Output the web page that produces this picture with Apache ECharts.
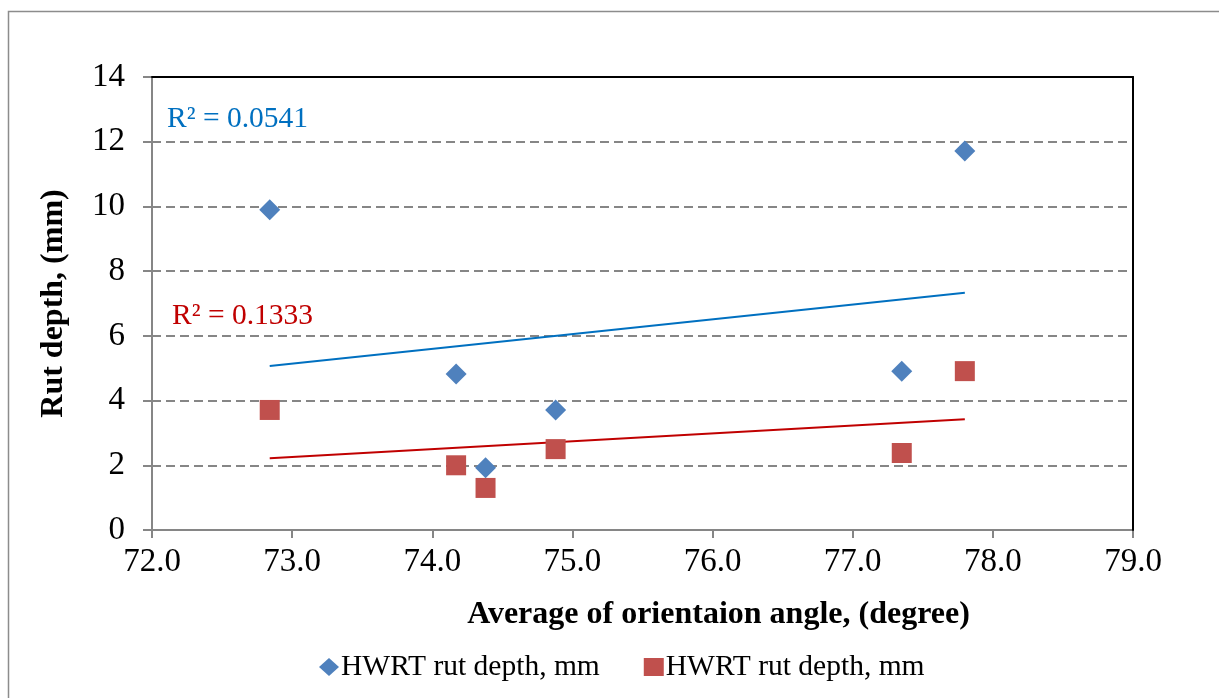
<!DOCTYPE html>
<html><head><meta charset="utf-8">
<script src="https://cdn.jsdelivr.net/npm/echarts@6/dist/echarts.min.js"></script>
<style>html,body{margin:0;padding:0;background:#fff}#c{width:1219px;height:698px}</style>
</head><body><div id="c"></div>
<script>
// Data
const angleX = [72.84, 74.17, 74.38, 74.88, 77.35, 77.80];
const rutBlue = [9.9, 4.82, 1.92, 3.71, 4.91, 11.71];
const rutRed = [3.71, 2.0, 1.30, 2.50, 2.38, 4.91];
const seriesLabels = ['HWRT rut depth, mm', 'HWRT rut depth, mm'];
const r2Labels = ['R\u00b2 = 0.0541', 'R\u00b2 = 0.1333'];
const xTitle = 'Average of orientaion angle, (degree)';
const yTitle = 'Rut depth, (mm)';

function fit(xs, ys) {
  const n = xs.length;
  const mx = xs.reduce((a, b) => a + b, 0) / n;
  const my = ys.reduce((a, b) => a + b, 0) / n;
  let sxy = 0, sxx = 0;
  for (let i = 0; i < n; i++) { sxy += (xs[i] - mx) * (ys[i] - my); sxx += (xs[i] - mx) ** 2; }
  const b = sxy / sxx, a = my - b * mx;
  const x0 = Math.min(...xs), x1 = Math.max(...xs);
  return [[x0, a + b * x0], [x1, a + b * x1]];
}
const pts = (xs, ys) => xs.map((x, i) => [x, ys[i]]);

const FONT = '"Liberation Serif", "Times New Roman", serif';
const gray = '#868686';
const chart = echarts.init(document.getElementById('c'), null, {renderer: 'canvas'});
chart.setOption({
  backgroundColor: '#fff',
  animation: false,
  textStyle: {fontFamily: FONT},
  grid: {left: 152, right: 86, top: 77, bottom: 168},
  legend: {
    data: [
      {name: 's1', icon: 'diamond', itemStyle: {color: '#4F81BD'}},
      {name: 's2', icon: 'rect', itemStyle: {color: '#C0504D'}}
    ],
    formatter: (n) => n === 's1' ? seriesLabels[0] : seriesLabels[1],
    left: 314, top: 647,
    itemWidth: 20, itemHeight: 18, itemGap: 44,
    textStyle: {fontFamily: FONT, fontSize: 29.5, color: '#000', padding: [0, 0, 0, -3]}
  },
  xAxis: [{
    type: 'value', min: 72, max: 79, interval: 1,
    name: xTitle, nameLocation: 'middle', nameGap: 69,
    nameTextStyle: {fontFamily: FONT, fontSize: 32, fontWeight: 'bold', color: '#000', padding: [0, 0, 0, 152]},
    axisLine: {show: true, onZero: false, lineStyle: {color: gray, width: 2}},
    axisTick: {show: true, inside: false, length: 8, lineStyle: {color: gray, width: 2}},
    axisLabel: {fontFamily: FONT, fontSize: 33, color: '#000', margin: 16, formatter: (v) => v.toFixed(1)},
    splitLine: {show: false}
  }, {
    type: 'value', position: 'top', min: 72, max: 79, interval: 1, z: 10,
    axisLine: {show: true, onZero: false, lineStyle: {color: '#000', width: 2}},
    axisTick: {show: false}, axisLabel: {show: false}, splitLine: {show: false}
  }],
  yAxis: [{
    type: 'value', min: 0, max: 14, interval: 2,
    name: yTitle, nameLocation: 'middle', nameGap: 82,
    nameTextStyle: {fontFamily: FONT, fontSize: 32, fontWeight: 'bold', color: '#000'},
    axisLine: {show: true, onZero: false, lineStyle: {color: gray, width: 2}},
    axisTick: {show: true, inside: false, length: 9, lineStyle: {color: gray, width: 2}},
    axisLabel: {fontFamily: FONT, fontSize: 33, color: '#000', margin: 27},
    splitLine: {show: true, showMaxLine: false, showMinLine: false, lineStyle: {color: gray, width: 2, type: [9, 5]}}
  }, {
    type: 'value', position: 'right', min: 0, max: 14, interval: 2, z: 10,
    axisLine: {show: true, onZero: false, lineStyle: {color: '#000', width: 2}},
    axisTick: {show: false}, axisLabel: {show: false}, splitLine: {show: false}
  }],
  series: [
    {name: 't1', type: 'line', data: fit(angleX, rutBlue), showSymbol: false, symbol: 'none',
     lineStyle: {color: '#0070C0', width: 2}, z: 2},
    {name: 't2', type: 'line', data: fit(angleX, rutRed), showSymbol: false, symbol: 'none',
     lineStyle: {color: '#C00000', width: 2}, z: 2},
    {name: 's1', type: 'scatter', data: pts(angleX, rutBlue), symbol: 'diamond', symbolSize: 21,
     itemStyle: {color: '#4F81BD', opacity: 1}, z: 3},
    {name: 's2', type: 'scatter', data: pts(angleX, rutRed), symbol: 'rect', symbolSize: 20,
     itemStyle: {color: '#C0504D', opacity: 1}, z: 3}
  ],
  graphic: [
    {type: 'rect', shape: {x: 8.5, y: 11.5, width: 1240, height: 720},
     style: {fill: 'none', stroke: '#8c8c8c', lineWidth: 1.5}, z: -1, silent: true},
    {type: 'text', left: 167, top: 104, style: {text: r2Labels[0], font: '29.5px ' + FONT, fill: '#0070C0'}},
    {type: 'text', left: 172, top: 301, style: {text: r2Labels[1], font: '29.5px ' + FONT, fill: '#C00000'}}
  ]
});
</script></body></html>
